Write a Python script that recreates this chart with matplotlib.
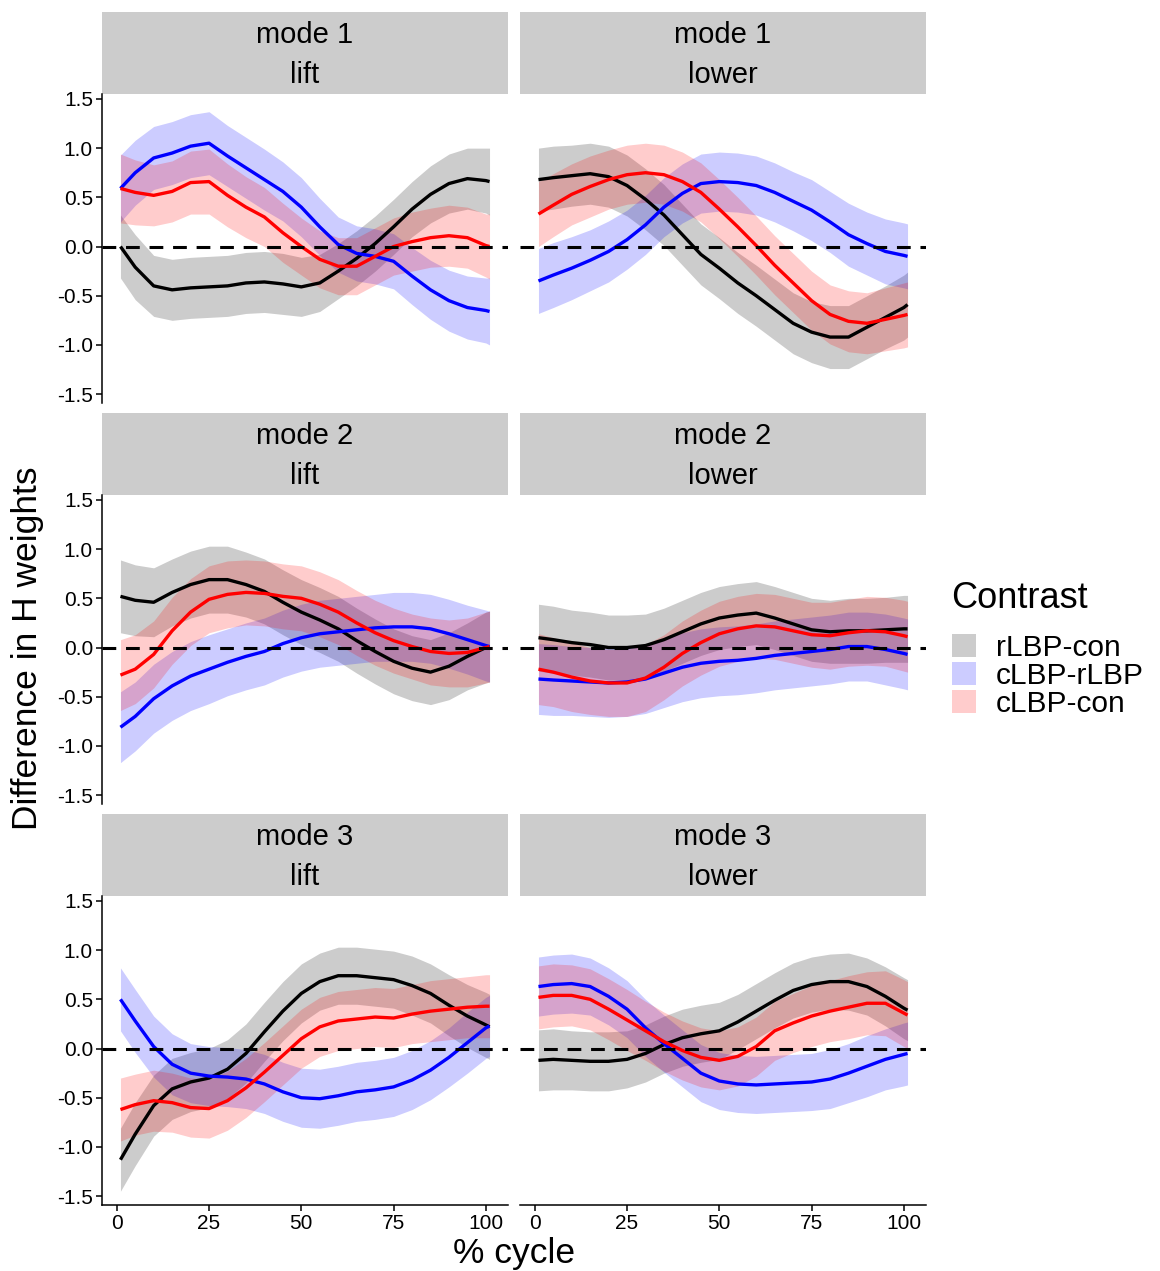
import matplotlib
matplotlib.use("Agg")
import matplotlib.pyplot as plt
from matplotlib.patches import Patch

plt.rcParams['font.family'] = ['Liberation Sans', 'DejaVu Sans']

# % cycle grid
cycle = [1, 5, 10, 15, 20, 25, 30, 35, 40, 45, 50, 55, 60, 65, 70, 75, 80, 85, 90, 95, 100, 101]

contrasts = ['rLBP-con', 'cLBP-rLBP', 'cLBP-con']
modes = ['mode 1', 'mode 2', 'mode 3']
tasks = ['lift', 'lower']

# ---- mode 1, lift ----
m1_lift_rcon = [0.00, -0.21, -0.40, -0.44, -0.42, -0.41, -0.40, -0.37, -0.36, -0.38, -0.41, -0.37,
                -0.25, -0.12, 0.03, 0.20, 0.38, 0.53, 0.64, 0.69, 0.67, 0.66]
m1_lift_rcon_ci = [0.32, 0.33, 0.31, 0.31, 0.31, 0.31, 0.31, 0.31, 0.31, 0.31, 0.30, 0.29,
                   0.28, 0.28, 0.28, 0.28, 0.28, 0.29, 0.30, 0.31, 0.33, 0.34]
m1_lift_crl = [0.59, 0.75, 0.90, 0.95, 1.02, 1.05, 0.92, 0.80, 0.68, 0.56, 0.40, 0.20,
               0.02, -0.07, -0.10, -0.15, -0.30, -0.44, -0.55, -0.62, -0.65, -0.66]
m1_lift_crl_ci = [0.34, 0.33, 0.32, 0.32, 0.32, 0.32, 0.31, 0.31, 0.31, 0.30, 0.30, 0.29,
                  0.28, 0.28, 0.28, 0.28, 0.29, 0.30, 0.31, 0.32, 0.33, 0.34]
m1_lift_ccon = [0.59, 0.55, 0.52, 0.56, 0.65, 0.66, 0.52, 0.40, 0.30, 0.14, 0.00, -0.13,
                -0.20, -0.20, -0.10, 0.00, 0.05, 0.09, 0.11, 0.09, 0.01, 0.00]
m1_lift_ccon_ci = [0.35, 0.33, 0.31, 0.31, 0.32, 0.33, 0.32, 0.31, 0.30, 0.30, 0.29, 0.29,
                   0.29, 0.29, 0.29, 0.29, 0.30, 0.30, 0.31, 0.31, 0.32, 0.33]

# ---- mode 1, lower ----
m1_lower_rcon = [0.68, 0.70, 0.72, 0.74, 0.71, 0.62, 0.48, 0.32, 0.12, -0.08, -0.22, -0.37,
                 -0.50, -0.64, -0.78, -0.87, -0.92, -0.92, -0.82, -0.72, -0.62, -0.59]
m1_lower_rcon_ci = [0.32, 0.32, 0.31, 0.31, 0.31, 0.31, 0.31, 0.31, 0.31, 0.31, 0.31, 0.31,
                    0.31, 0.31, 0.31, 0.31, 0.32, 0.32, 0.32, 0.32, 0.33, 0.33]
m1_lower_crl = [-0.35, -0.29, -0.22, -0.14, -0.05, 0.07, 0.22, 0.40, 0.54, 0.64, 0.66, 0.65,
                0.62, 0.55, 0.46, 0.37, 0.25, 0.12, 0.03, -0.05, -0.09, -0.10]
m1_lower_crl_ci = [0.33, 0.33, 0.32, 0.31, 0.31, 0.30, 0.30, 0.30, 0.30, 0.30, 0.30, 0.30,
                   0.30, 0.30, 0.30, 0.31, 0.31, 0.32, 0.32, 0.33, 0.33, 0.33]
m1_lower_ccon = [0.33, 0.42, 0.53, 0.61, 0.68, 0.73, 0.75, 0.73, 0.66, 0.55, 0.38, 0.20,
                 0.01, -0.19, -0.37, -0.55, -0.69, -0.76, -0.78, -0.74, -0.70, -0.69]
m1_lower_ccon_ci = [0.33, 0.32, 0.31, 0.31, 0.30, 0.30, 0.30, 0.30, 0.30, 0.30, 0.30, 0.30,
                    0.30, 0.30, 0.30, 0.30, 0.30, 0.31, 0.31, 0.32, 0.33, 0.33]

# ---- mode 2, lift ----
m2_lift_rcon = [0.52, 0.48, 0.46, 0.56, 0.64, 0.69, 0.69, 0.64, 0.57, 0.46, 0.36, 0.28,
                0.19, 0.07, -0.04, -0.14, -0.21, -0.25, -0.19, -0.09, 0.00, 0.01]
m2_lift_rcon_ci = [0.37, 0.36, 0.35, 0.34, 0.34, 0.34, 0.34, 0.33, 0.33, 0.33, 0.33, 0.33,
                   0.33, 0.33, 0.33, 0.33, 0.33, 0.33, 0.34, 0.34, 0.36, 0.36]
m2_lift_crl = [-0.81, -0.70, -0.52, -0.39, -0.29, -0.22, -0.15, -0.09, -0.04, 0.04, 0.10, 0.14,
               0.16, 0.18, 0.20, 0.21, 0.21, 0.19, 0.14, 0.08, 0.02, 0.01]
m2_lift_crl_ci = [0.36, 0.35, 0.35, 0.35, 0.35, 0.35, 0.34, 0.34, 0.34, 0.34, 0.34, 0.34,
                  0.34, 0.34, 0.34, 0.35, 0.35, 0.35, 0.35, 0.35, 0.36, 0.36]
m2_lift_ccon = [-0.28, -0.22, -0.07, 0.17, 0.36, 0.49, 0.54, 0.56, 0.55, 0.52, 0.50, 0.44,
                0.36, 0.25, 0.15, 0.07, 0.01, -0.04, -0.06, -0.05, 0.00, 0.01]
m2_lift_ccon_ci = [0.36, 0.35, 0.34, 0.34, 0.34, 0.34, 0.34, 0.33, 0.33, 0.33, 0.33, 0.33,
                   0.33, 0.33, 0.33, 0.33, 0.33, 0.34, 0.34, 0.35, 0.36, 0.36]

# ---- mode 2, lower ----
m2_lower_rcon = [0.10, 0.08, 0.05, 0.03, 0.00, 0.00, 0.02, 0.08, 0.16, 0.24, 0.30, 0.33,
                 0.35, 0.30, 0.24, 0.18, 0.16, 0.17, 0.17, 0.18, 0.19, 0.19]
m2_lower_rcon_ci = [0.34, 0.34, 0.33, 0.33, 0.33, 0.33, 0.32, 0.32, 0.32, 0.32, 0.32, 0.32,
                    0.32, 0.32, 0.32, 0.32, 0.32, 0.33, 0.33, 0.33, 0.34, 0.34]
m2_lower_crl = [-0.32, -0.33, -0.34, -0.35, -0.36, -0.35, -0.32, -0.26, -0.20, -0.16, -0.14, -0.13,
                -0.11, -0.08, -0.06, -0.04, -0.02, 0.01, 0.01, -0.02, -0.06, -0.07]
m2_lower_crl_ci = [0.36, 0.36, 0.35, 0.35, 0.35, 0.35, 0.35, 0.35, 0.35, 0.35, 0.35, 0.35,
                   0.35, 0.35, 0.35, 0.35, 0.35, 0.35, 0.35, 0.36, 0.36, 0.36]
m2_lower_ccon = [-0.22, -0.25, -0.30, -0.34, -0.36, -0.36, -0.31, -0.20, -0.06, 0.05, 0.14, 0.19,
                 0.22, 0.21, 0.17, 0.13, 0.12, 0.15, 0.17, 0.16, 0.12, 0.11]
m2_lower_ccon_ci = [0.36, 0.35, 0.35, 0.34, 0.34, 0.34, 0.34, 0.33, 0.33, 0.33, 0.33, 0.33,
                    0.33, 0.33, 0.33, 0.33, 0.34, 0.34, 0.35, 0.35, 0.36, 0.36]

# ---- mode 3, lift ----
m3_lift_rcon = [-1.13, -0.87, -0.58, -0.41, -0.34, -0.30, -0.21, -0.05, 0.17, 0.38, 0.56, 0.68,
                0.74, 0.74, 0.72, 0.70, 0.64, 0.56, 0.44, 0.33, 0.24, 0.22]
m3_lift_rcon_ci = [0.32, 0.32, 0.31, 0.31, 0.30, 0.30, 0.30, 0.30, 0.30, 0.30, 0.30, 0.29,
                   0.29, 0.29, 0.29, 0.29, 0.30, 0.30, 0.31, 0.32, 0.33, 0.33]
m3_lift_crl = [0.50, 0.28, 0.02, -0.16, -0.25, -0.28, -0.29, -0.31, -0.36, -0.44, -0.50, -0.51,
               -0.48, -0.44, -0.42, -0.39, -0.32, -0.22, -0.09, 0.06, 0.21, 0.23]
m3_lift_crl_ci = [0.32, 0.32, 0.31, 0.31, 0.30, 0.30, 0.30, 0.30, 0.30, 0.30, 0.30, 0.30,
                  0.30, 0.30, 0.30, 0.30, 0.30, 0.30, 0.30, 0.31, 0.31, 0.31]
m3_lift_ccon = [-0.62, -0.57, -0.53, -0.55, -0.60, -0.61, -0.53, -0.40, -0.24, -0.07, 0.10, 0.22,
                0.28, 0.30, 0.32, 0.31, 0.35, 0.38, 0.40, 0.42, 0.43, 0.43]
m3_lift_ccon_ci = [0.32, 0.31, 0.31, 0.30, 0.30, 0.30, 0.30, 0.30, 0.30, 0.30, 0.30, 0.30,
                   0.30, 0.30, 0.30, 0.30, 0.30, 0.31, 0.31, 0.31, 0.32, 0.32]

# ---- mode 3, lower ----
m3_lower_rcon = [-0.12, -0.11, -0.12, -0.13, -0.13, -0.11, -0.05, 0.04, 0.11, 0.15, 0.18, 0.27,
                 0.38, 0.49, 0.59, 0.65, 0.68, 0.68, 0.63, 0.53, 0.41, 0.39]
m3_lower_rcon_ci = [0.31, 0.31, 0.30, 0.30, 0.30, 0.29, 0.29, 0.29, 0.29, 0.29, 0.29, 0.28,
                    0.28, 0.28, 0.28, 0.28, 0.28, 0.29, 0.29, 0.30, 0.31, 0.31]
m3_lower_crl = [0.63, 0.65, 0.66, 0.63, 0.53, 0.40, 0.21, 0.05, -0.10, -0.25, -0.33, -0.36,
                -0.37, -0.36, -0.35, -0.34, -0.31, -0.25, -0.18, -0.11, -0.06, -0.05]
m3_lower_crl_ci = [0.30, 0.30, 0.30, 0.29, 0.29, 0.29, 0.29, 0.29, 0.29, 0.29, 0.29, 0.29,
                   0.29, 0.29, 0.29, 0.29, 0.30, 0.30, 0.31, 0.31, 0.32, 0.32]
m3_lower_ccon = [0.52, 0.54, 0.54, 0.50, 0.40, 0.29, 0.18, 0.07, -0.02, -0.09, -0.12, -0.08,
                 0.02, 0.18, 0.26, 0.33, 0.38, 0.42, 0.46, 0.46, 0.36, 0.34]
m3_lower_ccon_ci = [0.32, 0.32, 0.31, 0.31, 0.31, 0.31, 0.30, 0.30, 0.30, 0.30, 0.30, 0.30,
                    0.30, 0.30, 0.30, 0.31, 0.31, 0.32, 0.32, 0.33, 0.34, 0.34]

panels = {
    (0, 0): [(m1_lift_rcon, m1_lift_rcon_ci), (m1_lift_crl, m1_lift_crl_ci), (m1_lift_ccon, m1_lift_ccon_ci)],
    (0, 1): [(m1_lower_rcon, m1_lower_rcon_ci), (m1_lower_crl, m1_lower_crl_ci), (m1_lower_ccon, m1_lower_ccon_ci)],
    (1, 0): [(m2_lift_rcon, m2_lift_rcon_ci), (m2_lift_crl, m2_lift_crl_ci), (m2_lift_ccon, m2_lift_ccon_ci)],
    (1, 1): [(m2_lower_rcon, m2_lower_rcon_ci), (m2_lower_crl, m2_lower_crl_ci), (m2_lower_ccon, m2_lower_ccon_ci)],
    (2, 0): [(m3_lift_rcon, m3_lift_rcon_ci), (m3_lift_crl, m3_lift_crl_ci), (m3_lift_ccon, m3_lift_ccon_ci)],
    (2, 1): [(m3_lower_rcon, m3_lower_rcon_ci), (m3_lower_crl, m3_lower_crl_ci), (m3_lower_ccon, m3_lower_ccon_ci)],
}

line_cols = ['black', 'blue', 'red']

W, H = 1160, 1271
fig = plt.figure(figsize=(W / 100, H / 100), dpi=100)


def rect(x0, y0, x1, y1):
    return [x0 / W, 1 - y1 / H, (x1 - x0) / W, (y1 - y0) / H]


col_x = [(102, 508), (520, 926)]
strip_h, panel_h, gap = 82, 309, 10

for r in range(3):
    top = 12 + r * (strip_h + panel_h + gap)
    for c in range(2):
        x0, x1 = col_x[c]
        # strip
        sax = fig.add_axes(rect(x0, top, x1, top + strip_h))
        sax.set_facecolor('#CCCCCC')
        sax.set_xticks([])
        sax.set_yticks([])
        for s in sax.spines.values():
            s.set_visible(False)
        sax.text(0.5, 0.72, modes[r], ha='center', va='center', fontsize=21, transform=sax.transAxes)
        sax.text(0.5, 0.23, tasks[c], ha='center', va='center', fontsize=21, transform=sax.transAxes)

        ax = fig.add_axes(rect(x0, top + strip_h, x1, top + strip_h + panel_h))
        for (mean, ci), col in zip(panels[(r, c)], line_cols):
            lo = [m - e for m, e in zip(mean, ci)]
            hi = [m + e for m, e in zip(mean, ci)]
            ax.fill_between(cycle, lo, hi, color=col, alpha=0.2, linewidth=0)
            ax.plot(cycle, mean, color=col, lw=2.4, solid_capstyle='butt', solid_joinstyle='round')
        ax.axhline(0, color='black', lw=2.2, ls=(0, (4.5, 3.2)))
        ax.set_xlim(-4, 106)
        ax.set_ylim(-1.59, 1.55)
        ax.spines['top'].set_visible(False)
        ax.spines['right'].set_visible(False)
        ax.spines['left'].set_linewidth(1.1)
        ax.spines['bottom'].set_linewidth(1.1)
        ax.tick_params(length=4.5, width=1.1, labelsize=15, colors='black', pad=2)
        ax.set_xticks([0, 25, 50, 75, 100])
        ax.set_yticks([-1.5, -1.0, -0.5, 0.0, 0.5, 1.0, 1.5])
        ax.set_yticklabels(['-1.5', '-1.0', '-0.5', '0.0', '0.5', '1.0', '1.5'])
        if c == 1:
            ax.spines['left'].set_visible(False)
            ax.tick_params(axis='y', left=False, labelleft=False)
        if r < 2:
            ax.spines['bottom'].set_visible(False)
            ax.tick_params(axis='x', bottom=False, labelbottom=False)

fig.text(514 / W, 1 - 1253 / H, '% cycle', ha='center', va='center', fontsize=25.5)
fig.text(28 / W, 1 - 648 / H, 'Difference in H weights', ha='center', va='center',
         rotation=90, fontsize=25.5)

# legend
fig.text(951 / W, 1 - 598 / H, 'Contrast', ha='left', va='center', fontsize=26)
handles = [Patch(facecolor=col, alpha=0.2, edgecolor='none') for col in line_cols]
fig.legend(handles, contrasts, loc='upper left',
           bbox_to_anchor=(946 / W, 1 - 628 / H), frameon=False, fontsize=21.5,
           handlelength=0.82, handleheight=0.82, labelspacing=0.0,
           handletextpad=0.65, borderaxespad=0, borderpad=0.2)

fig.savefig('out.png', dpi=100)
